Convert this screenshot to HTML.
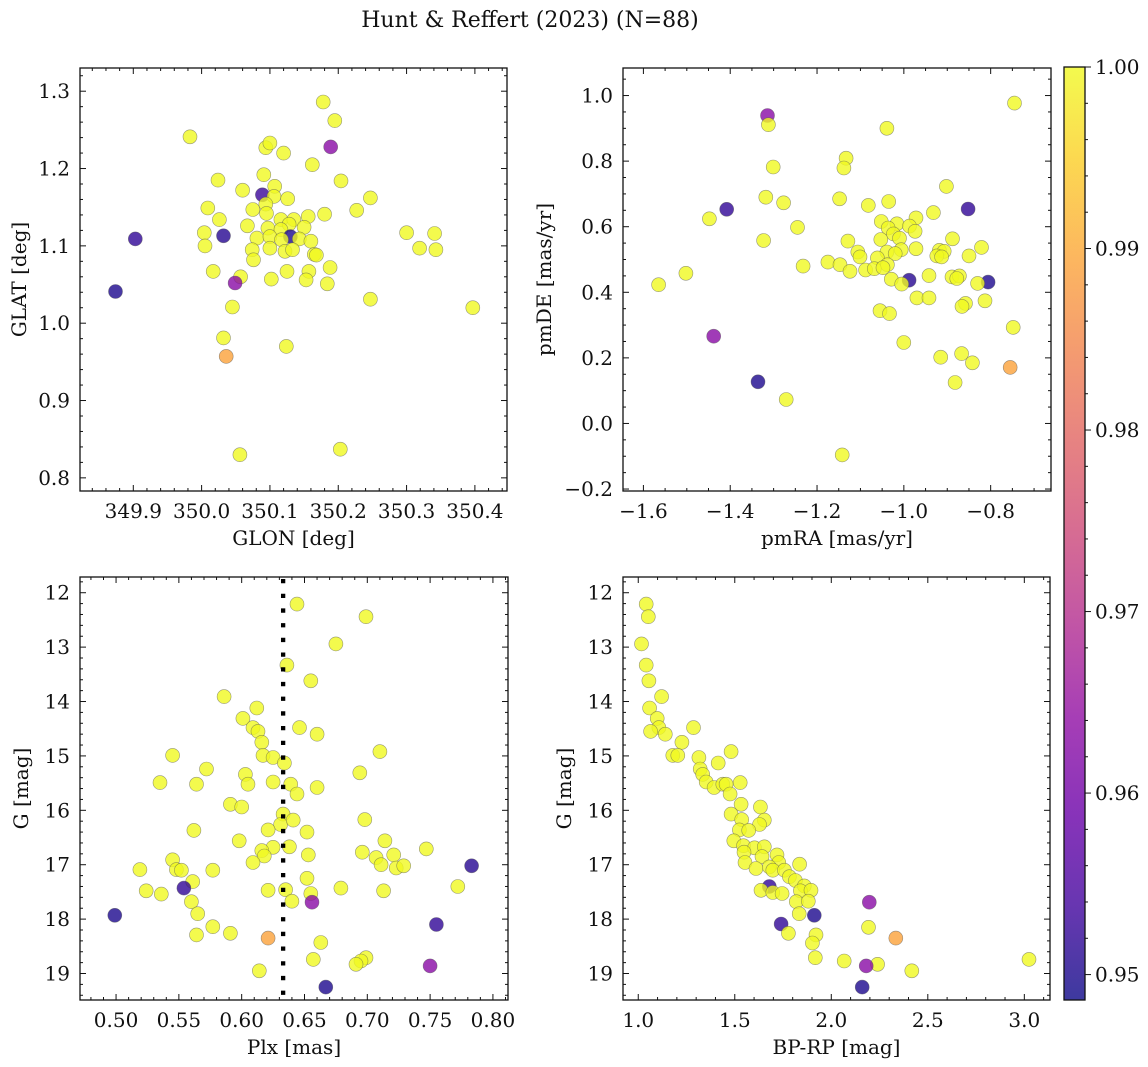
<!DOCTYPE html>
<html><head><meta charset="utf-8">
<style>
html,body{margin:0;padding:0;background:#fff;}
svg{display:block;}
text{font-family:"DejaVu Serif","Liberation Serif",serif;fill:#111;}
</style></head>
<body>
<svg id="fig" width="1148" height="1067" viewBox="0 0 1148 1067" xmlns="http://www.w3.org/2000/svg">
<text x="530" y="27" text-anchor="middle" font-size="22">Hunt &amp; Reffert (2023) (N=88)</text>
</svg>
<script>
// ---------- Panel 1 data: GLON vs GLAT ----------
const p1Glon=[350.178,350.195,349.983,350.189,350.094,350.100,350.120,350.162,350.024,350.091,350.204,350.060,350.089,350.107,350.106,350.126,350.247,350.009,350.227,350.075,350.094,350.095,350.180,350.156,350.026,350.116,350.135,350.067,350.097,350.128,350.150,350.004,350.032,349.903,350.116,350.130,350.300,350.341,350.081,350.100,350.117,350.143,350.160,350.005,350.074,350.100,350.122,350.133,350.165,350.168,350.319,350.343,350.076,350.017,350.057,350.049,350.125,350.157,350.102,350.153,350.188,350.184,349.874,350.247,350.397,350.045,350.032,350.036,350.124,350.056,350.203];
const p1Glat=[1.286,1.262,1.241,1.228,1.227,1.233,1.220,1.205,1.185,1.192,1.184,1.172,1.166,1.177,1.164,1.161,1.162,1.149,1.146,1.147,1.154,1.142,1.141,1.138,1.134,1.134,1.134,1.126,1.123,1.128,1.124,1.117,1.113,1.109,1.121,1.112,1.117,1.116,1.110,1.112,1.108,1.109,1.106,1.100,1.095,1.097,1.093,1.095,1.089,1.088,1.097,1.095,1.082,1.067,1.060,1.052,1.067,1.067,1.057,1.056,1.072,1.051,1.041,1.031,1.020,1.021,0.981,0.957,0.970,0.830,0.837];
const p1Prob=[1,1,1,0.963,1,1,1,1,1,1,1,1,0.953,1,1,1,1,1,1,1,1,1,1,1,1,1,1,1,1,1,1,1,0.951,0.952,1,0.950,1,1,1,1,1,1,1,1,1,1,1,1,1,1,1,1,1,1,1,0.963,1,1,1,1,1,1,0.950,1,1,1,1,0.989,1,1,1];
const p1XTicks=[349.9,350.0,350.1,350.2,350.3,350.4];
const p1YTicks=[0.8,0.9,1.0,1.1,1.2,1.3];

// ---------- Panel 2 data: pmRA vs pmDE ----------
const p2PmRA=[-0.745,-1.314,-1.312,-1.039,-1.133,-1.138,-1.301,-0.902,-1.318,-1.277,-1.148,-1.082,-1.035,-1.408,-0.852,-1.448,-0.932,-0.972,-1.052,-1.016,-0.987,-1.036,-0.974,-1.245,-1.024,-1.010,-1.053,-1.323,-1.129,-0.888,-0.821,-1.006,-0.972,-1.106,-1.039,-1.020,-0.918,-0.907,-1.101,-1.061,-0.924,-0.913,-0.850,-1.175,-1.147,-1.232,-1.038,-1.124,-1.088,-1.068,-1.048,-1.502,-1.565,-0.942,-0.889,-0.872,-0.878,-1.029,-0.988,-1.005,-0.806,-0.830,-0.970,-0.942,-0.813,-0.858,-0.866,-1.055,-1.033,-0.748,-1.438,-1.000,-0.867,-0.915,-0.842,-0.755,-1.336,-0.882,-1.271,-1.142];
const p2PmDE=[0.977,0.939,0.911,0.900,0.809,0.779,0.782,0.723,0.690,0.673,0.685,0.665,0.677,0.653,0.654,0.624,0.643,0.627,0.616,0.609,0.602,0.596,0.586,0.598,0.578,0.565,0.561,0.558,0.556,0.563,0.537,0.530,0.533,0.523,0.523,0.518,0.528,0.525,0.508,0.505,0.511,0.508,0.511,0.492,0.484,0.480,0.484,0.464,0.468,0.472,0.475,0.458,0.423,0.451,0.447,0.450,0.442,0.440,0.437,0.425,0.431,0.427,0.383,0.383,0.374,0.366,0.357,0.344,0.335,0.293,0.266,0.247,0.213,0.202,0.185,0.171,0.127,0.125,0.073,-0.096];
const p2Prob=[1,0.963,1,1,1,1,1,1,1,1,1,1,1,0.952,0.952,1,1,1,1,1,1,1,1,1,1,1,1,1,1,1,1,1,1,1,1,1,1,1,1,1,1,1,1,1,1,1,1,1,1,1,1,1,1,1,1,1,1,1,0.951,1,0.950,1,1,1,1,1,1,1,1,1,0.963,1,1,1,1,0.989,0.950,1,1,1];
const p2XTicks=[-1.6,-1.4,-1.2,-1.0,-0.8];
const p2YTicks=[-0.2,0.0,0.2,0.4,0.6,0.8,1.0];

// ---------- Panel 3 data: Plx vs G ----------
const p3Plx=[0.644,0.699,0.675,0.636,0.655,0.586,0.612,0.601,0.609,0.613,0.616,0.646,0.660,0.710,0.545,0.617,0.625,0.634,0.572,0.694,0.603,0.535,0.564,0.605,0.625,0.639,0.660,0.644,0.591,0.600,0.633,0.631,0.641,0.698,0.562,0.621,0.652,0.598,0.714,0.625,0.638,0.616,0.618,0.653,0.696,0.747,0.545,0.707,0.721,0.609,0.519,0.548,0.552,0.577,0.711,0.723,0.729,0.783,0.652,0.561,0.554,0.524,0.536,0.621,0.635,0.655,0.679,0.713,0.772,0.656,0.560,0.640,0.565,0.499,0.755,0.577,0.591,0.564,0.621,0.663,0.657,0.699,0.695,0.691,0.750,0.614,0.667];
const p3G=[12.21,12.44,12.94,13.33,13.62,13.91,14.12,14.31,14.48,14.55,14.75,14.48,14.60,14.92,14.99,14.99,15.03,15.13,15.24,15.31,15.34,15.49,15.52,15.52,15.48,15.52,15.58,15.70,15.89,15.94,16.07,16.26,16.18,16.17,16.37,16.36,16.40,16.56,16.56,16.68,16.67,16.74,16.84,16.82,16.77,16.71,16.91,16.87,16.82,16.96,17.09,17.09,17.10,17.10,17.00,17.06,17.02,17.02,17.25,17.31,17.43,17.48,17.54,17.47,17.46,17.53,17.43,17.48,17.40,17.69,17.68,17.67,17.90,17.93,18.10,18.14,18.26,18.29,18.35,18.43,18.74,18.71,18.77,18.83,18.86,18.95,19.25];
const p3Prob=[1,1,1,1,1,1,1,1,1,1,1,1,1,1,1,1,1,1,1,1,1,1,1,1,1,1,1,1,1,1,1,1,1,1,1,1,1,1,1,1,1,1,1,1,1,1,1,1,1,1,1,1,1,1,1,1,1,0.951,1,1,0.952,1,1,1,1,1,1,1,1,0.963,1,1,1,0.950,0.952,1,1,1,0.989,1,1,1,1,1,0.963,1,0.950];
const p3PlxRef=[0.633];
const p3XTicks=[0.50,0.55,0.60,0.65,0.70,0.75,0.80];
const gTicks=[12,13,14,15,16,17,18,19];

// ---------- Panel 4 data: BP-RP vs G ----------
const p4BpRp=[1.041,1.052,1.017,1.041,1.055,1.121,1.059,1.098,1.107,1.064,1.140,1.286,1.226,1.179,1.205,1.481,1.314,1.414,1.321,1.334,1.352,1.393,1.438,1.455,1.528,1.476,1.533,1.633,1.481,1.536,1.653,1.628,1.524,1.572,1.495,1.545,1.602,1.653,1.548,1.719,1.641,1.553,1.728,1.836,1.610,1.679,1.697,1.757,1.783,1.814,1.860,1.679,1.636,1.697,1.745,1.840,1.895,1.819,1.881,2.197,1.834,1.912,1.740,2.193,1.778,1.921,1.902,2.334,1.917,2.067,3.024,2.240,2.181,2.417,2.160];
const p4G=[12.21,12.44,12.94,13.33,13.62,13.91,14.12,14.31,14.48,14.55,14.60,14.48,14.75,14.99,14.99,14.92,15.03,15.13,15.24,15.34,15.48,15.58,15.52,15.52,15.49,15.70,15.89,15.94,16.07,16.17,16.18,16.26,16.36,16.37,16.56,16.65,16.69,16.67,16.77,16.82,16.85,16.96,16.96,16.99,17.07,17.04,17.10,17.10,17.22,17.29,17.39,17.40,17.47,17.51,17.53,17.48,17.47,17.68,17.67,17.69,17.90,17.93,18.09,18.15,18.26,18.29,18.44,18.35,18.71,18.77,18.74,18.83,18.86,18.95,19.25];
const p4Prob=[1,1,1,1,1,1,1,1,1,1,1,1,1,1,1,1,1,1,1,1,1,1,1,1,1,1,1,1,1,1,1,1,1,1,1,1,1,1,1,1,1,1,1,1,1,1,1,1,1,1,1,0.952,1,1,1,1,1,1,1,0.963,1,0.950,0.952,1,1,1,1,0.989,1,1,1,1,0.963,1,0.950];
const p4XTicks=[1.0,1.5,2.0,2.5,3.0];

// ---------- Colorbar ----------
const cbTicks=[0.95,0.96,0.97,0.98,0.99,1.00];
const cbMin=0.9486, cbMax=1.0;

const NS='http://www.w3.org/2000/svg';
const fig=document.getElementById('fig');
const FS=20;
function mk(tag,attrs,parent){const e=document.createElementNS(NS,tag);for(const k in attrs)e.setAttribute(k,attrs[k]);(parent||fig).appendChild(e);return e;}

const plasmaStops=[[13,8,135],[65,4,157],[106,0,168],[143,13,164],[177,42,144],[204,71,120],[225,100,98],[242,132,75],[252,166,54],[252,206,37],[240,249,33]];
function plasma(t){t=Math.max(0,Math.min(1,t));const f=t*10;const i=Math.min(9,Math.floor(f));const r=f-i;const a=plasmaStops[i],b=plasmaStops[i+1];
 return 'rgb('+a.map((v,k)=>Math.round(v+(b[k]-v)*r)).join(',')+')';}
function probColor(p){return plasma((p-cbMin)/(cbMax-cbMin));}

function fmtNum(v,d){const s=Math.abs(v).toFixed(d);return (v<-1e-9?'\u2212':'')+s;}

function panel(cfg){
 const g=mk('g',{});
 
 
 const X=v=>cfg.x0+(v-cfg.xd[0])/(cfg.xd[1]-cfg.xd[0])*(cfg.x1-cfg.x0);
 const Y=v=>cfg.y0+(v-cfg.yd[0])/(cfg.yd[1]-cfg.yd[0])*(cfg.y1-cfg.y0);
 const pg=mk('g',{},g);
 
 
 for(let i=0;i<cfg.xs.length;i++){
  const c=mk('circle',{cx:X(cfg.xs[i]).toFixed(1),cy:Y(cfg.ys[i]).toFixed(1),r:7,fill:probColor(cfg.ps[i]),'fill-opacity':0.8,stroke:'#555','stroke-opacity':0.6,'stroke-width':0.6},pg);
  
  
 }
 if(cfg.extra)cfg.extra(g,X,Y);
 const fr=mk('rect',{x:cfg.x0,y:cfg.y0,width:cfg.x1-cfg.x0,height:cfg.y1-cfg.y0,fill:'none',stroke:'#111','stroke-width':1.3},g);
 
 
 const yTop=Math.min(cfg.y0,cfg.y1), yBot=Math.max(cfg.y0,cfg.y1);
 const xlo=Math.min(...cfg.xd), xhi=Math.max(...cfg.xd);
 for(let v=Math.ceil(xlo/cfg.xminor-1e-6)*cfg.xminor; v<=xhi+1e-9; v+=cfg.xminor){
  const px=X(v); const isMaj=cfg.xt.some(t=>Math.abs(t-v)<cfg.xminor/3); const L=isMaj?6:3;
  mk('line',{x1:px,x2:px,y1:yBot,y2:yBot-L,stroke:'#111','stroke-width':1},g);
  mk('line',{x1:px,x2:px,y1:yTop,y2:yTop+L,stroke:'#111','stroke-width':1},g);
 }
 cfg.xt.forEach(t=>{const tx=mk('text',{x:X(t),y:yBot+27,'text-anchor':'middle','font-size':FS},g);tx.textContent=fmtNum(t,cfg.xdec);
  });
 const ylo=Math.min(...cfg.yd), yhi=Math.max(...cfg.yd);
 for(let v=Math.ceil(ylo/cfg.yminor-1e-6)*cfg.yminor; v<=yhi+1e-9; v+=cfg.yminor){
  const py=Y(v); const isMaj=cfg.yt.some(t=>Math.abs(t-v)<cfg.yminor/3); const L=isMaj?6:3;
  mk('line',{x1:cfg.x0,x2:cfg.x0+L,y1:py,y2:py,stroke:'#111','stroke-width':1},g);
  mk('line',{x1:cfg.x1,x2:cfg.x1-L,y1:py,y2:py,stroke:'#111','stroke-width':1},g);
 }
 cfg.yt.forEach(t=>{const ty=mk('text',{x:cfg.x0-10,y:Y(t)+7,'text-anchor':'end','font-size':FS},g);ty.textContent=fmtNum(t,cfg.ydec);
  });
 const xl=mk('text',{x:(cfg.x0+cfg.x1)/2,y:yBot+54,'text-anchor':'middle','font-size':FS},g);xl.textContent=cfg.xlabel;
 
 const yc=(yTop+yBot)/2;
 const yl=mk('text',{x:cfg.ylx,y:yc,'text-anchor':'middle','font-size':FS,transform:'rotate(-90 '+cfg.ylx+' '+yc+')'},g);yl.textContent=cfg.ylabel;
 
}

panel({name:'glon-glat-panel',x0:80,x1:507,y0:68,y1:491,xd:[349.822,350.447],yd:[1.330,0.783],xs:p1Glon,ys:p1Glat,ps:p1Prob,
 xt:p1XTicks,yt:p1YTicks,xminor:0.02,yminor:0.02,xdec:1,ydec:1,xlabel:'GLON [deg]',ylabel:'GLAT [deg]',ylx:26});
panel({name:'pm-panel',x0:623,x1:1051,y0:68,y1:491,xd:[-1.647,-0.661],yd:[1.084,-0.206],xs:p2PmRA,ys:p2PmDE,ps:p2Prob,
 xt:p2XTicks,yt:p2YTicks,xminor:0.05,yminor:0.05,xdec:1,ydec:1,xlabel:'pmRA [mas/yr]',ylabel:'pmDE [mas/yr]',ylx:551});
panel({name:'plx-g-panel',x0:80,x1:508,y0:577,y1:1000,xd:[0.4713,0.812],yd:[11.711,19.487],xs:p3Plx,ys:p3G,ps:p3Prob,
 xt:p3XTicks,yt:gTicks,xminor:0.01,yminor:0.2,xdec:2,ydec:0,xlabel:'Plx [mas]',ylabel:'G [mag]',ylx:28,
 extra:(g,X,Y)=>{p3PlxRef.forEach(v=>{const l=mk('line',{x1:X(v),x2:X(v),y1:579,y2:1000,stroke:'#000','stroke-width':4.3,'stroke-dasharray':'4.3 10.4'},g);
  });}});
panel({name:'cmd-panel',x0:623,x1:1050,y0:577,y1:1000,xd:[0.921,3.133],yd:[11.711,19.487],xs:p4BpRp,ys:p4G,ps:p4Prob,
 xt:p4XTicks,yt:gTicks,xminor:0.1,yminor:0.2,xdec:1,ydec:0,xlabel:'BP-RP [mag]',ylabel:'G [mag]',ylx:571});

(function(){
 const cx0=1064,cx1=1085,cy0=67,cy1=1000;
 const cg=mk('g',{});
 
 
 const defs=mk('defs',{},cg);
 const lg=mk('linearGradient',{id:'cbg',x1:0,y1:1,x2:0,y2:0},defs);
 for(let i=0;i<=20;i++){mk('stop',{offset:(i/20),'stop-color':plasma(i/20)},lg);}
 const r=mk('rect',{x:cx0,y:cy0,width:cx1-cx0,height:cy1-cy0,fill:'url(#cbg)','fill-opacity':0.8},cg);
 
 mk('rect',{x:cx0,y:cy0,width:cx1-cx0,height:cy1-cy0,fill:'none',stroke:'#111','stroke-width':1.3},cg);
 const Yc=v=>cy1-(v-cbMin)/(cbMax-cbMin)*(cy1-cy0);
 for(let v=0.950;v<=1.0+1e-9;v+=0.002){const maj=cbTicks.some(t=>Math.abs(t-v)<0.0005);
  mk('line',{x1:cx1,x2:cx1+(maj?6:3),y1:Yc(v),y2:Yc(v),stroke:'#111','stroke-width':1},cg);}
 cbTicks.forEach(t=>{const tx=mk('text',{x:1095,y:Yc(t)+7,'font-size':FS},cg);tx.textContent=t.toFixed(2);
  });
})();
</script>
</body></html>
